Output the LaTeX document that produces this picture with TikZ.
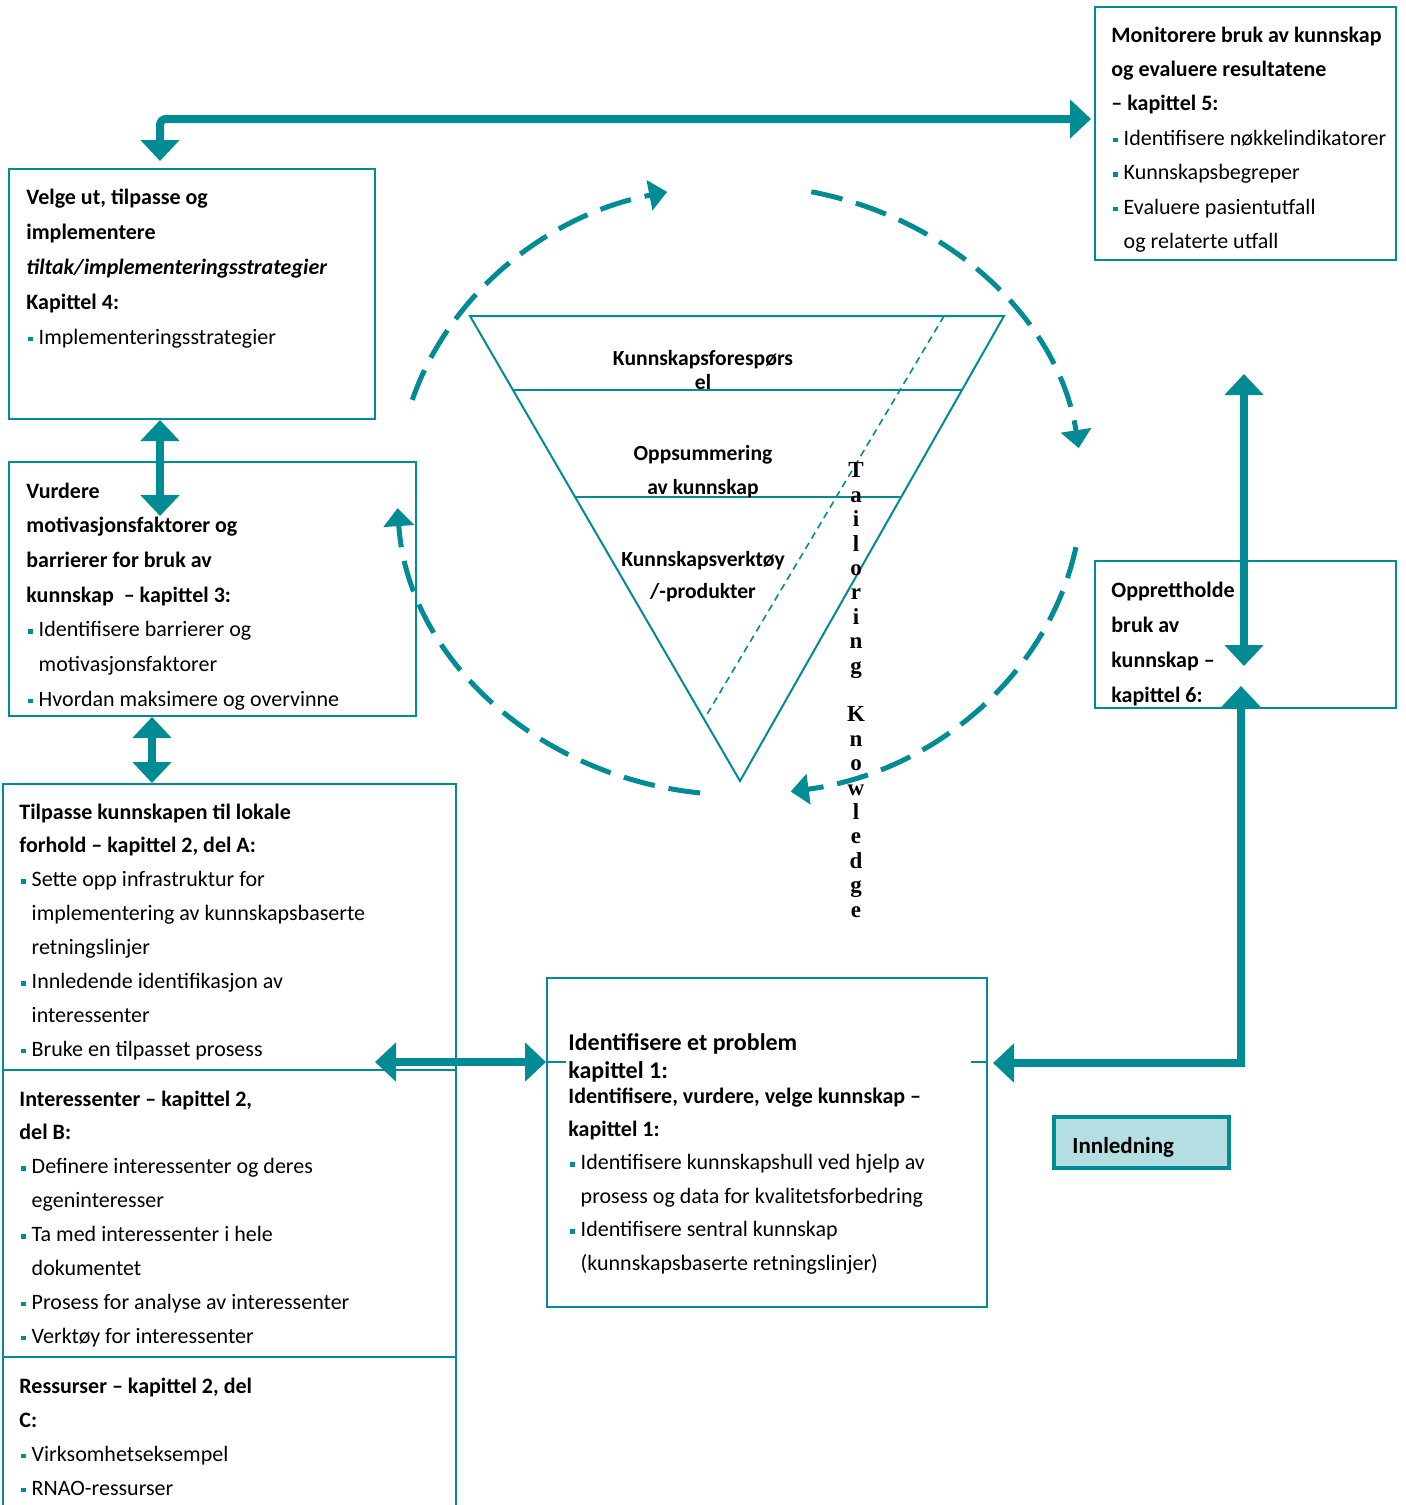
\documentclass[tikz,border=0pt]{standalone}
\usepackage{fontspec}
\setmainfont{Carlito}
\newfontfamily\tailfont{Liberation Serif}
\usetikzlibrary{arrows.meta,fit}

\definecolor{kteal}{RGB}{0,139,149}
\definecolor{klight}{RGB}{180,222,226}

% small square bullet and the matching indent
\newcommand{\bul}{\makebox[0.56em][l]{\hspace{0.08em}\textcolor{kteal}{\rule[0.28ex]{0.2em}{0.2em}}}}
\newcommand{\ind}{\hspace*{0.56em}}

\tikzset{
  frame/.style={draw=kteal, line width=1pt, inner sep=0pt},
  boxtext/.style={anchor=base west, align=left, inner sep=0pt, font=\fontsize{11}{17.2}\selectfont},
  funneltext/.style={anchor=base, align=center, inner sep=0pt},
  funnel/.style={draw=kteal, line width=1pt, line join=miter},
  bigarrow/.style={draw=kteal, line width=4pt, {Triangle[width=19pt,length=10.5pt]}-{Triangle[width=19pt,length=10.5pt]}},
  cyclearc/.style={draw=kteal, line width=2.5pt, dash pattern=on 16pt off 7pt, -{Triangle[width=15pt,length=9pt]}},
}

\begin{document}
\begin{tikzpicture}[x=0.5pt, y=-0.5pt]
    \useasboundingbox (0,0) rectangle (1406,1505);

    % boxes
    \node[frame, fit={(1095,7) (1396,260)}] (mon) {};
    \node[frame, fit={(9,169) (375,419)}] (velge) {};
    \node[frame, fit={(9,462) (416,716)}] (vurd) {};
    \node[frame, fit={(3,784) (456,1070)}] (tilp) {};
    \node[frame, fit={(3,1070) (456,1357)}] (inter) {};
    \node[frame, fit={(3,1357) (456,1540)}] (ress) {};
    \node[frame, fit={(547,978) (987,1307)}] (ident) {};
    \node[frame, fit={(1095,561) (1396,708)}] (oppr) {};
    \node[frame, fill=klight, line width=2pt, fit={(1054,1117) (1229,1168)}] (innl) {};
    \draw[frame] (547,1062) -- (566,1062);
    \draw[frame] (971,1062) -- (987,1062);

    % texts in the boxes (placed at the baseline of their last line)
    \node[boxtext] (montxt) at (1111,248.4) {\textbf{Monitorere bruk av kunnskap}\\
        \textbf{og evaluere resultatene}\\
        \textbf{– kapittel 5:}\\
        \bul Identifisere nøkkelindikatorer\\
        \bul Kunnskapsbegreper\\
        \bul Evaluere pasientutfall\\
        \ind og relaterte utfall};
    \node[boxtext, font=\fontsize{11}{17.5}\selectfont] (velgetxt) at (26,344) {\textbf{Velge ut, tilpasse og}\\
        \textbf{implementere}\\
        \textbf{\textit{tiltak/implementeringsstrategier}}\\
        \textbf{Kapittel 4:}\\
        \bul Implementeringsstrategier};
    \node[boxtext, font=\fontsize{11}{17.35}\selectfont] (vurdtxt) at (26,706.2) {\textbf{Vurdere}\\
        \textbf{motivasjonsfaktorer og}\\
        \textbf{barrierer for bruk av}\\
        \textbf{kunnskap\ \ – kapittel 3:}\\
        \bul Identifisere barrierer og\\
        \ind motivasjonsfaktorer\\
        \bul Hvordan maksimere og overvinne};
    \node[boxtext, font=\fontsize{11}{16.95}\selectfont] (tilptxt) at (19,1056.3) {\textbf{Tilpasse kunnskapen til lokale}\\
        \textbf{forhold – kapittel 2, del A:}\\
        \bul Sette opp infrastruktur for\\
        \ind implementering av kunnskapsbaserte\\
        \ind retningslinjer\\
        \bul Innledende identifikasjon av\\
        \ind interessenter\\
        \bul Bruke en tilpasset prosess};
    \node[boxtext, font=\fontsize{11}{16.95}\selectfont] (intertxt) at (19,1343.3) {\textbf{Interessenter – kapittel 2,}\\
        \textbf{del B:}\\
        \bul Definere interessenter og deres\\
        \ind egeninteresser\\
        \bul Ta med interessenter i hele\\
        \ind dokumentet\\
        \bul Prosess for analyse av interessenter\\
        \bul Verktøy for interessenter};
    \node[boxtext, font=\fontsize{11}{17}\selectfont] (resstxt) at (19,1495) {\textbf{Ressurser – kapittel 2, del}\\
        \textbf{C:}\\
        \bul Virksomhetseksempel\\
        \bul RNAO-ressurser};
    \node[boxtext, font=\bfseries\fontsize{12}{14}\selectfont] (identhead) at (568,1078) {Identifisere et problem\\
        kapittel 1:};
    \node[boxtext, font=\fontsize{11}{16.7}\selectfont] (identtxt) at (568,1270) {\textbf{Identifisere, vurdere, velge kunnskap –}\\
        \textbf{kapittel 1:}\\
        \bul Identifisere kunnskapshull ved hjelp av\\
        \ind prosess og data for kvalitetsforbedring\\
        \bul Identifisere sentral kunnskap\\
        \ind (kunnskapsbaserte retningslinjer)};
    \node[boxtext, font=\bfseries\fontsize{11}{17.5}\selectfont] (opprtxt) at (1111,702) {Opprettholde\\
        bruk av\\
        kunnskap –\\
        kapittel 6:};
    \node[boxtext, font=\bfseries\fontsize{11.5}{14}\selectfont] (innltxt) at (1072,1153) {Innledning};

    % funnel
    \coordinate (fl) at (470,316);
    \coordinate (fr) at (1004,316);
    \coordinate (fb) at (740,781);
    \coordinate (f1l) at (513,390);
    \coordinate (f1r) at (962,390);
    \coordinate (f2l) at (575,497);
    \coordinate (f2r) at (901,497);
    \coordinate (dt) at (944,316);
    \coordinate (db) at (706,716);
    \draw[funnel] (fl) -- (fr) -- (fb) -- cycle;
    \draw[funnel] (f1l) -- (f1r);
    \draw[funnel] (f2l) -- (f2r);
    \draw[funnel, line width=0.8pt, dash pattern=on 3.5pt off 2.5pt] (dt) -- (db);
    \node[funneltext, font=\bfseries\fontsize{10.8}{12}\selectfont] (q1) at (703,389) {Kunnskapsforespørs\\el};
    \node[funneltext, font=\bfseries\fontsize{10.8}{17}\selectfont] (q2) at (703,494) {Oppsummering\\av kunnskap};
    \node[funneltext, font=\bfseries\fontsize{10.8}{16}\selectfont] (q3) at (703,598) {Kunnskapsverktøy\\/-produkter};
    \node[funneltext, font=\tailfont\bfseries\fontsize{11.5}{12.2}\selectfont] (tailor) at (856,917)
        {T\\a\\i\\l\\o\\r\\i\\n\\g\\[12.2pt]K\\n\\o\\w\\l\\e\\d\\g\\e};

    % dashed cycle round the funnel
    \coordinate (cyc) at (739.5,490);
    \draw[cyclearc] (cyc) ++(197.2:342.5 and 305) arc[start angle=197.2, end angle=257.8, x radius=342.5, y radius=305];
    \draw[cyclearc] (cyc) ++(282.1:342.5 and 305) arc[start angle=282.1, end angle=352.1, x radius=342.5, y radius=305];
    \draw[cyclearc] (cyc) ++(10.8:342.5 and 305) arc[start angle=10.8, end angle=81.4, x radius=342.5, y radius=305];
    \draw[cyclearc] (cyc) ++(96.6:342.5 and 305) arc[start angle=96.6, end angle=176.6, x radius=342.5, y radius=305];

    % thick connectors
    \coordinate (a1s) at (160,161);
    \coordinate (a1e) at (1091,119);
    \coordinate (a2e) at (160,516);
    \coordinate (a3) at (152,0);
    \coordinate (a4s) at (375,1062);
    \coordinate (a5s) at (993,1063);
    \coordinate (a5e) at (1241,686);
    \coordinate (a6s) at (1244,374);
    \coordinate (a6e) at (1244,666);
    \draw[bigarrow, rounded corners=3pt] (a1s) |- (a1e);
    \draw[bigarrow] (velge.south -| a1s) -- (a2e);
    \draw[bigarrow] (vurd.south -| a3) -- (tilp.north -| a3);
    \draw[bigarrow] (a4s) -- (ident.west |- a4s);
    \draw[bigarrow] (a5s) -| (a5e);
    \draw[bigarrow] (a6s) -- (a6e);
\end{tikzpicture}
\end{document}
